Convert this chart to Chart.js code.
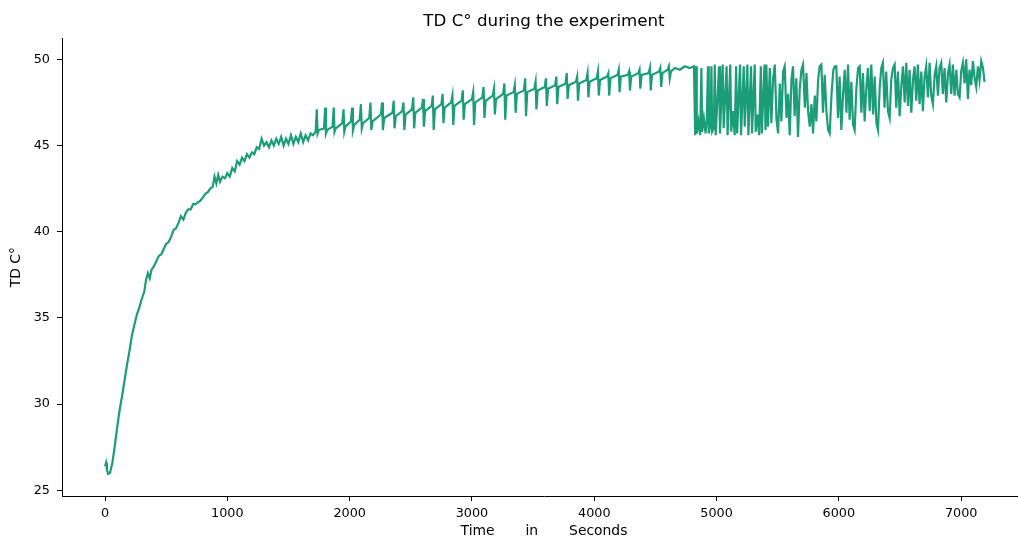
<!DOCTYPE html>
<html>
<head>
<meta charset="utf-8">
<script src="https://cdn.jsdelivr.net/npm/chart.js@4.4.1/dist/chart.umd.min.js"></script>
<style>
html,body{margin:0;padding:0;overflow:hidden;background:#fff;width:1018px;height:540px;}
#wrap{width:1030px;height:540px;}
</style>
</head>
<body>
<div id="wrap"><canvas id="c" width="1030" height="540"></canvas></div>
<script>
// ---- data ----
const warmupTimes = [0,8,15,25,40,60,80,100,120,140,160,180,200,220,240,260,280,300,320,335,350,365,380,400,420,440,460,480,500,520,540,560,580,600,620,640,660,680,700,720,740,760,780,800,820,840,860,880,895,910,925,940,960,980,1000,1020,1040,1060,1080,1100,1120,1140,1160,1180,1200,1220,1240,1260,1280,1300];
const warmupTemps = [26.4,26.6,26.2,25.95,26.0,26.6,27.6,28.7,29.7,30.5,31.4,32.3,33.1,34.0,34.6,35.2,35.6,36.1,36.5,37.2,37.6,37.3,37.8,38.0,38.3,38.6,38.7,39.0,39.3,39.4,39.7,40.1,40.2,40.5,40.9,40.7,41.1,41.3,41.3,41.6,41.6,41.7,41.8,42.0,42.2,42.3,42.5,42.6,43.2,42.8,43.3,42.9,43.2,43.1,43.4,43.2,43.7,43.5,44.1,43.9,44.3,44.1,44.5,44.3,44.6,44.5,44.9,44.8,45.4,45.0];

const plateauTimes = [1320,1340,1360,1380,1400,1420,1440,1460,1480,1500,1520,1540,1560,1580,1600,1620,1640,1660,1680];
const plateauTemps = [45.2,44.9,45.3,45.0,45.4,45.1,45.5,45.0,45.4,45.1,45.6,45.1,45.5,45.2,45.7,45.2,45.6,45.3,45.7];

const cycleTimes = [
1700,1722,1731,1738, 1748,1790,1800,1806, 1816,1860,1870,1876, 1886,1940,1950,1956,
1966,2010,2020,2027, 2037,2082,2092,2099, 2109,2160,2170,2177, 2187,2255,2265,2272,
2282,2350,2360,2367, 2377,2430,2440,2447, 2457,2510,2520,2527, 2537,2590,2600,2607,
2617,2670,2680,2687, 2697,2750,2760,2767, 2777,2830,2840,2847, 2857,2915,2925,2932,
2942,3000,3010,3017, 3027,3085,3095,3102, 3112,3170,3180,3187, 3197,3255,3265,3272,
3282,3340,3350,3357, 3367,3425,3435,3442, 3452,3510,3520,3527, 3537,3595,3605,3612,
3622,3680,3690,3697, 3707,3765,3775,3782, 3792,3850,3860,3867, 3877,3935,3945,3952,
3962,4020,4030,4037, 4047,4105,4115,4122, 4132,4190,4200,4207, 4217,4275,4285,4292,
4302,4360,4370,4377, 4387,4445,4455,4462, 4472,4530,4540,4547, 4557,4600,4610,4617,
4627,4660,4700,4740,4780,4815];
const cycleTemps = [
45.6,45.8,47.1,45.7, 45.9,46.0,47.2,45.7, 45.9,46.1,47.2,45.8, 46.0,46.3,47.1,45.8,
46.1,46.4,47.2,45.9, 46.2,46.5,47.4,46.0, 46.3,46.6,47.5,45.9, 46.4,46.8,47.5,45.9,
46.6,46.9,47.6,46.0, 46.7,47.0,47.5,45.9, 46.8,47.1,47.8,46.0, 46.9,47.2,47.7,46.1,
47.0,47.3,47.9,45.9, 47.1,47.4,48.0,46.3, 47.2,47.5,47.9,46.2, 47.3,47.6,48.2,46.5,
47.4,47.7,48.1,46.2, 47.5,47.8,48.4,46.6, 47.6,47.9,48.3,46.8, 47.7,48.0,48.6,46.5,
47.9,48.1,48.5,46.9, 48.0,48.2,48.9,46.7, 48.1,48.3,48.7,47.1, 48.2,48.4,48.9,47.3,
48.3,48.5,49.0,47.4, 48.4,48.6,49.2,47.7, 48.5,48.7,49.0,47.6, 48.6,48.8,49.2,47.8,
48.7,48.9,49.3,47.9, 48.8,49.0,49.2,47.9, 48.9,49.1,49.4,48.1, 49.0,49.1,49.3,48.2,
49.0,49.2,49.4,48.3, 49.1,49.2,49.5,48.2, 49.1,49.3,49.5,48.4, 49.2,49.4,49.6,48.9,
49.3,49.5,49.4,49.6,49.5,49.6];

// rapid switching phase
const switchTimes = [
4825,4832,4838,4852,4866,4876,4882,4896,4910,4920,4930,4936,4950,4958,4964,4978,
4985,4993,5020,5028,5050,5058,5082,5090,5112,5120,5135,5148,5160,5168,5192,5200,
5222,5230,5252,5260,5282,5290,5312,5320,5335,5348,5362,5370,5392,5400];
const switchTemps = [
45.6,49.6,45.7,46.4,45.6,49.5,45.8,46.6,45.7,46.5,49.6,45.7,46.2,49.6,45.8,46.0,
49.7,45.6,49.6,45.7,49.7,46.0,49.6,45.6,49.7,45.8,47.0,45.6,49.6,45.7,49.7,45.6,
49.6,46.1,49.7,45.6,49.6,45.7,49.7,45.8,46.8,45.6,49.6,45.7,49.7,45.9];

// slower oscillation phase
const oscTimes = [
5407,5420,5435,5448,5462,5476,5490,5503,5517,5530,5544,5557,5572,5585,5598,5612,
5625,5638,5652,5666,5680,5694,5707,5722,5735,5748,5762,5776,5789,5803,5816,5830,
5843,5857,5870,5884,5898,5912,5925,5940,5955,5967,5979,5993,6006,6020,6035,6048,
6062,6075,6088,6102,6116,6129,6143,6157,6170,6184,6197,6211,6225,6238,6252,6265,
6280,6293,6307,6320,
6334,6347,6360,6373,6387,6401,6415,6428,6442,6456,6469,6483,6497,6511,6524,6538,
6551,6565,6578,6592,6606,6619,6633,6646,6660,6674,6687,6701,6714,6728,6742,6755,
6769,6783,6796,6810,6823,6837,6850,6864,6878,6892,6905,6919,6932,6946,6960,6973,
6987,7000,7014,7028,7041,7055,7068,7082,7096,7110,7123,7137,7150,7164,7178,7191];
const oscTemps = [
49.7,46.1,49.5,46.3,48.9,49.7,46.5,45.7,48.6,46.4,49.3,49.6,46.6,48.0,45.6,48.8,
49.6,46.7,48.9,45.5,48.3,49.4,49.7,47.2,49.2,47.0,46.1,47.4,45.7,47.9,46.4,48.8,
49.6,49.7,46.9,49.1,47.0,45.9,45.7,48.0,49.4,49.6,49.6,46.6,49.0,45.9,48.1,49.4,
46.9,49.7,46.5,48.7,46.2,45.9,48.3,49.5,49.6,46.9,49.2,46.4,48.4,49.5,47.0,49.7,
46.8,49.0,46.3,45.9,
48.4,49.5,49.8,47.2,49.3,47.0,46.6,48.8,49.5,49.7,47.2,49.3,46.7,48.5,49.6,47.5,
49.8,47.3,49.4,46.9,48.8,49.6,47.6,49.7,47.4,49.3,47.0,49.0,49.6,47.8,49.8,47.9,
47.4,49.1,49.6,47.9,49.5,49.8,48.0,49.5,47.5,49.2,49.7,48.0,49.7,47.9,49.4,48.0,
47.8,49.3,49.8,48.6,50.0,47.7,49.4,48.5,49.9,48.9,48.4,49.6,48.8,49.9,49.5,48.7];

const xTickValues = [0,1000,2000,3000,4000,5000,6000,7000];
const yTickValues = [25,30,35,40,45,50];

// ---- assemble ----
const allTimes = warmupTimes.concat(plateauTimes, cycleTimes, switchTimes, oscTimes);
const allTemps = warmupTemps.concat(plateauTemps, cycleTemps, switchTemps, oscTemps);
const points = allTimes.map((t, i) => ({x: t, y: allTemps[i]}));

const FONT = 'DejaVu Sans';
new Chart(document.getElementById('c'), {
  type: 'line',
  data: {datasets: [{
    data: points,
    borderColor: '#1b9e77',
    borderWidth: 2.2,
    pointRadius: 0,
    tension: 0,
    fill: false
  }]},
  options: {
    responsive: false,
    animation: false,
    devicePixelRatio: 1,
    layout: {padding: {left: 0, right: 4, top: 0, bottom: 0}},
    plugins: {
      legend: {display: false},
      tooltip: {enabled: false},
      title: {
        display: true,
        text: 'TD C° during the experiment',
        color: '#000',
        font: {family: FONT, size: 16.7, weight: 'normal'},
        padding: {top: 12, bottom: 6.3},
        fullSize: false
      }
    },
    scales: {
      x: {
        type: 'linear',
        min: -352,
        max: 7530,
        afterBuildTicks: s => { s.ticks = xTickValues.map(v => ({value: v})); },
        afterFit: s => { s.height = 44; },
        ticks: {
          color: '#000',
          font: {family: FONT, size: 12.8},
          padding: 5,
          maxRotation: 0,
          autoSkip: false,
          callback: v => String(v)
        },
        grid: {drawOnChartArea: false, drawTicks: true, tickLength: 5, color: '#000', lineWidth: 1},
        border: {display: true, color: '#000', width: 1},
        title: {
          display: true,
          text: 'Time       in       Seconds',
          color: '#000',
          font: {family: FONT, size: 13.9},
          padding: {top: 0, bottom: 0}
        }
      },
      y: {
        type: 'linear',
        min: 24.67,
        max: 51.22,
        afterBuildTicks: s => { s.ticks = yTickValues.map(v => ({value: v})); },
        afterFit: s => { s.width = 62; },
        ticks: {
          color: '#000',
          font: {family: FONT, size: 12.8},
          padding: 7,
          autoSkip: false,
          callback: v => String(v)
        },
        grid: {drawOnChartArea: false, drawTicks: true, tickLength: 5, color: '#000', lineWidth: 1},
        border: {display: true, color: '#000', width: 1},
        title: {
          display: true,
          text: 'TD C°',
          color: '#000',
          font: {family: FONT, size: 13.9},
          padding: {top: 8, bottom: 0}
        }
      }
    }
  }
});
</script>
</body>
</html>
